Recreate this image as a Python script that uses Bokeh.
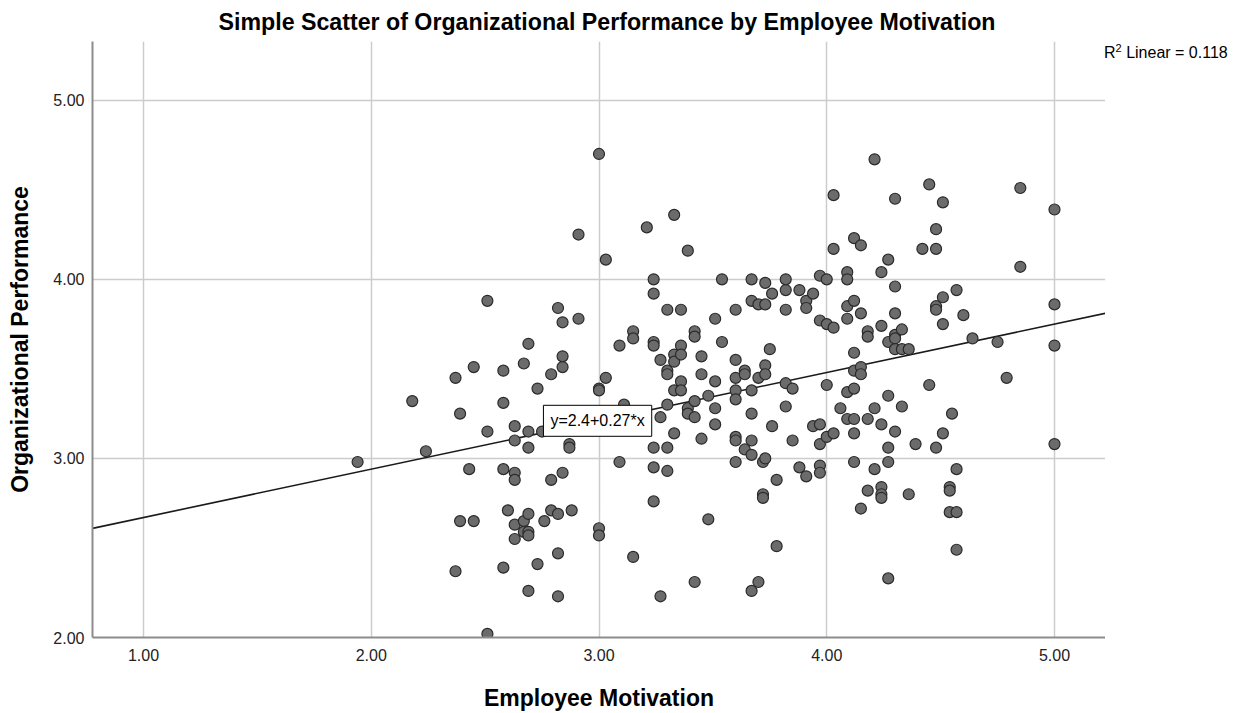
from bokeh.plotting import figure
from bokeh.models import Range1d, Label, FixedTicker, NumeralTickFormatter, Div
from bokeh.layouts import row
from bokeh.embed import file_html
from bokeh.resources import INLINE

# Employee Motivation (x) and Organizational Performance (y)
motivation = [
    1.94, 2.18, 2.24, 2.37, 2.37, 2.39, 2.39, 2.45, 2.45, 2.43,
    2.51, 2.51, 2.51, 2.58, 2.58, 2.58, 2.58, 2.60, 2.63, 2.63,
    2.63, 2.63, 2.63, 2.63, 2.67, 2.67, 2.67, 2.69, 2.69, 2.69,
    2.69, 2.69, 2.69, 2.69, 2.73, 2.73, 2.75, 2.76, 2.79, 2.79,
    2.79, 2.82, 2.82, 2.82, 2.82, 2.84, 2.84, 2.84, 2.84, 2.87,
    2.87, 2.88, 2.91, 2.91, 3.00, 3.00, 3.00, 3.00, 3.00, 3.03,
    3.03, 3.09, 3.09, 3.11, 3.15, 3.15, 3.15, 3.21, 3.24, 3.24,
    3.24, 3.24, 3.24, 3.24, 3.24, 3.27, 3.27, 3.27, 3.30, 3.30,
    3.30, 3.30, 3.30, 3.30, 3.33, 3.33, 3.33, 3.33, 3.33, 3.36,
    3.36, 3.36, 3.36, 3.36, 3.39, 3.39, 3.39, 3.42, 3.42, 3.42,
    3.42, 3.42, 3.45, 3.45, 3.45, 3.48, 3.48, 3.51, 3.51, 3.51,
    3.51, 3.54, 3.54, 3.60, 3.60, 3.60, 3.60, 3.60, 3.60, 3.60,
    3.60, 3.64, 3.64, 3.64, 3.67, 3.67, 3.67, 3.67, 3.67, 3.67,
    3.67, 3.70, 3.70, 3.70, 3.72, 3.72, 3.72, 3.73, 3.73, 3.73,
    3.73, 3.73, 3.75, 3.76, 3.76, 3.78, 3.78, 3.82, 3.82, 3.82,
    3.82, 3.82, 3.85, 3.85, 3.88, 3.88, 3.91, 3.91, 3.91, 3.94,
    3.94, 3.97, 3.97, 3.97, 3.97, 3.97, 3.97, 4.00, 4.00, 4.00,
    4.00, 4.03, 4.03, 4.03, 4.03, 4.06, 4.09, 4.09, 4.09, 4.09,
    4.09, 4.09, 4.12, 4.12, 4.12, 4.12, 4.12, 4.12, 4.12, 4.12,
    4.15, 4.15, 4.15, 4.15, 4.15, 4.18, 4.18, 4.18, 4.18, 4.21,
    4.21, 4.21, 4.24, 4.24, 4.24, 4.24, 4.24, 4.24, 4.27, 4.27,
    4.27, 4.27, 4.27, 4.27, 4.30, 4.30, 4.30, 4.30, 4.30, 4.30,
    4.30, 4.33, 4.33, 4.33, 4.36, 4.36, 4.39, 4.42, 4.45, 4.45,
    4.48, 4.48, 4.48, 4.48, 4.48, 4.51, 4.51, 4.51, 4.51, 4.54,
    4.54, 4.54, 4.55, 4.57, 4.57, 4.57, 4.57, 4.60, 4.64, 4.75,
    4.79, 4.85, 4.85, 5.00, 5.00, 5.00, 5.00,
]
performance = [
    2.98, 3.32, 3.04, 3.45, 2.37, 3.25, 2.65, 2.65, 3.51, 2.94,
    3.15, 3.88, 2.02, 3.49, 3.31, 2.94, 2.39, 2.71, 3.18, 3.10,
    2.92, 2.88, 2.63, 2.55, 3.53, 2.65, 2.59, 3.64, 3.15, 3.06,
    2.69, 2.59, 2.57, 2.26, 3.39, 2.41, 3.15, 2.65, 3.47, 2.88,
    2.71, 3.84, 2.69, 2.47, 2.23, 3.76, 3.57, 3.51, 2.92, 3.08,
    3.06, 2.71, 4.25, 3.78, 4.70, 3.39, 3.38, 2.61, 2.57, 4.11,
    3.45, 3.63, 2.98, 3.30, 3.71, 3.67, 2.45, 4.29, 4.00, 3.92,
    3.65, 3.63, 3.06, 2.95, 2.76, 3.55, 3.23, 2.23, 3.83, 3.49,
    3.47, 3.30, 3.06, 2.93, 4.36, 3.58, 3.54, 3.38, 3.14, 3.83,
    3.63, 3.58, 3.43, 3.38, 4.16, 3.28, 3.25, 3.71, 3.68, 3.32,
    3.23, 2.31, 3.57, 3.47, 3.11, 3.35, 2.66, 3.78, 3.43, 3.28,
    3.19, 4.00, 3.65, 3.83, 3.55, 3.45, 3.38, 3.33, 3.12, 3.10,
    2.98, 3.49, 3.47, 3.05, 4.00, 3.88, 3.38, 3.25, 3.10, 3.02,
    2.26, 3.86, 3.45, 2.31, 2.98, 2.80, 2.78, 3.98, 3.86, 3.52,
    3.47, 3.00, 3.61, 3.92, 3.18, 2.88, 2.51, 4.00, 3.94, 3.83,
    3.42, 3.29, 3.39, 3.10, 3.94, 2.95, 3.88, 3.84, 2.90, 3.92,
    3.18, 4.02, 3.77, 3.19, 3.08, 2.96, 2.92, 4.00, 3.75, 3.41,
    3.12, 4.47, 4.17, 3.73, 3.14, 3.28, 4.04, 4.00, 3.85, 3.78,
    3.37, 3.22, 4.23, 3.88, 3.59, 3.49, 3.39, 3.22, 3.14, 2.98,
    4.19, 3.81, 3.51, 3.47, 2.72, 3.71, 3.68, 3.22, 2.82, 4.67,
    3.28, 2.94, 4.04, 3.74, 3.19, 2.84, 2.80, 2.78, 4.11, 3.65,
    3.35, 3.06, 2.98, 2.33, 4.45, 3.96, 3.81, 3.69, 3.67, 3.61,
    3.15, 3.72, 3.61, 3.29, 3.61, 2.80, 3.08, 4.17, 4.53, 3.41,
    4.28, 4.17, 3.85, 3.83, 3.06, 4.43, 3.90, 3.75, 3.14, 2.84,
    2.82, 2.70, 3.25, 3.94, 2.94, 2.70, 2.49, 3.80, 3.67, 3.65,
    3.45, 4.51, 4.07, 4.39, 3.86, 3.63, 3.08,
]

x_ticks = [1, 2, 3, 4, 5]
y_ticks = [2, 3, 4, 5]
intercept = 2.4
slope = 0.27
r_squared = 0.118

title_text = "Simple Scatter of Organizational Performance by Employee Motivation"
x_label = "Employee Motivation"
y_label = "Organizational Performance"

x_start, x_end = 0.776, 5.224
y_start, y_end = 2.0, 5.328

FONT = "Liberation Sans"

p = figure(
    frame_width=1013, frame_height=596,
    x_range=Range1d(x_start, x_end), y_range=Range1d(y_start, y_end),
    output_backend="svg", toolbar_location=None,
    min_border_left=92, min_border_right=0, min_border_top=40, min_border_bottom=60,
    title=title_text,
)
p.outline_line_color = None
p.background_fill_color = "white"
p.border_fill_color = "white"

p.title.align = "left"
p.title.offset = 126
p.title.text_font = FONT
p.title.text_font_size = "23.2px"
p.title.text_font_style = "bold"
p.title.text_color = "black"
p.title.text_line_height = 1.0
p.title.standoff = 13

for ax in (p.xaxis[0], p.yaxis[0]):
    ax.axis_line_color = "#8c8c8c"
    ax.axis_line_width = 2
    ax.major_tick_line_color = None
    ax.minor_tick_line_color = None
    ax.major_tick_out = 0
    ax.major_tick_in = 0
    ax.major_label_text_font = FONT
    ax.major_label_text_font_size = "16px"
    ax.major_label_text_color = "#222222"
    ax.axis_label_text_font = FONT
    ax.axis_label_text_font_size = "23px"
    ax.axis_label_text_font_style = "bold"
    ax.axis_label_text_color = "black"
    ax.formatter = NumeralTickFormatter(format="0.00")

p.xaxis[0].ticker = FixedTicker(ticks=x_ticks)
p.yaxis[0].ticker = FixedTicker(ticks=y_ticks)
p.xaxis[0].axis_label = x_label
p.yaxis[0].axis_label = y_label
p.xaxis[0].major_label_standoff = 11
p.yaxis[0].major_label_standoff = 8
p.xaxis[0].axis_label_standoff = 21
p.yaxis[0].axis_label_standoff = 17

p.xgrid.ticker = FixedTicker(ticks=x_ticks)
p.ygrid.ticker = FixedTicker(ticks=y_ticks[1:])
for g in (p.xgrid[0], p.ygrid[0]):
    g.grid_line_color = "#cccccc"
    g.grid_line_width = 1.5

# fit line
p.line([x_start, x_end], [intercept + slope * x_start, intercept + slope * x_end],
       line_color="#1a1a1a", line_width=1.6)

p.scatter(motivation, performance, size=11, fill_color="#6b6b6b",
          line_color="#2a2a2a", line_width=1.2)

eq = Label(x=2.756, y=3.21, text=f"y={intercept}+{slope}*x",
           text_font=FONT, text_font_size="16px", text_color="black",
           text_baseline="middle", text_align="left",
           background_fill_color="white", border_line_color="black",
           border_line_width=1, padding=7)
p.add_layout(eq)

r2 = Div(
    text=(f'<div style="margin-top:39px;margin-left:-6px;font-family:\'Liberation Sans\';font-size:16px;'
          f'color:black;white-space:nowrap;line-height:18px">R<sup style="font-size:11px;'
          f'line-height:0">2</sup> Linear = {r_squared}</div>'),
    width=136,
)

layout = row(p, r2)

open("out.html", "w").write(file_html(layout, INLINE))
